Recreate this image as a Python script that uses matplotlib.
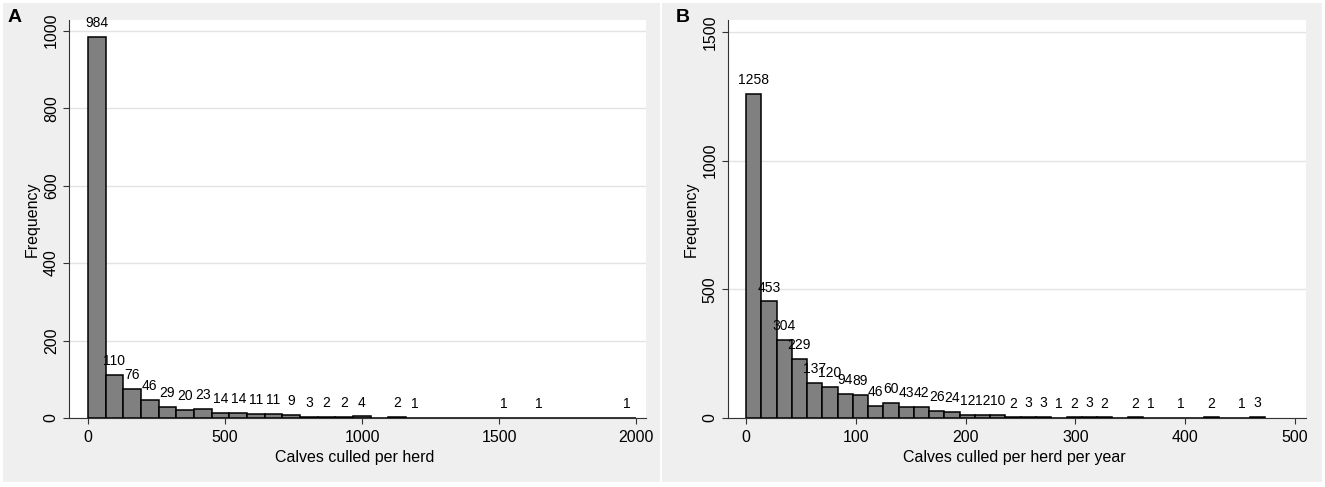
import numpy as np
import matplotlib.pyplot as plt
from matplotlib.patches import Rectangle

plt.rcParams['font.family'] = ['Liberation Sans', 'DejaVu Sans']

# panel A: calves culled per herd, 31 bins
width_a = 64.5
counts_a = [984, 110, 76, 46, 29, 20, 23, 14, 14, 11, 11, 9, 3, 2, 2, 4,
            0, 2, 1, 0, 0, 0, 0, 1, 0, 1, 0, 0, 0, 0, 1]
xticks_a = [0, 500, 1000, 1500, 2000]
yticks_a = [0, 200, 400, 600, 800, 1000]

# panel B: calves culled per herd per year, 34 bins
width_b = 13.9
counts_b = [1258, 453, 304, 229, 137, 120, 94, 89, 46, 60, 43, 42, 26, 24,
            12, 12, 10, 2, 3, 3, 1, 2, 3, 2, 0, 2, 1, 0, 1, 0, 2, 0, 1, 3]
xticks_b = [0, 100, 200, 300, 400, 500]
yticks_b = [0, 500, 1000, 1500]

W, H = 1325, 487
fig = plt.figure(figsize=(W / 100, H / 100), dpi=100, facecolor='white')

# grey graph regions behind each panel
for x0, x1 in [(3, 660), (662, 1322)]:
    fig.patches.append(Rectangle((x0 / W, 1 - 482 / H), (x1 - x0) / W, 479 / H,
                                 transform=fig.transFigure, facecolor='#efefef',
                                 edgecolor='none', zorder=-5))


def panel(rect, counts, width, xticks, yticks, xlim, ylim, xlabel, letter, lx):
    ax = fig.add_axes(rect)
    ax.set_zorder(2)
    ax.set_facecolor('white')
    n = len(counts)
    left = np.arange(n) * width
    ax.bar(left, counts, width=width, align='edge', color='#808080',
           edgecolor='black', linewidth=1.1, zorder=3)
    for x, c in zip(left + width / 2, counts):
        if c > 0:
            ax.annotate(str(c), (x, c), xytext=(0, 5), textcoords='offset points',
                        ha='center', va='bottom', fontsize=10, zorder=4)
    ax.set_xlim(*xlim)
    ax.set_ylim(*ylim)
    ax.set_xticks(xticks)
    ax.set_yticks(yticks)
    ax.set_yticklabels([str(t) for t in yticks], rotation=90, va='center')
    ax.tick_params(direction='out', length=4.3, width=0.8, color='#333333',
                   labelsize=11.5, pad=3)
    ax.tick_params(axis='x', pad=4)
    for s in ['top', 'right']:
        ax.spines[s].set_visible(False)
    for s in ['left', 'bottom']:
        ax.spines[s].set_color('#333333')
        ax.spines[s].set_linewidth(0.8)
    ax.yaxis.grid(True, color='#e3e3e3', linewidth=1)
    ax.set_axisbelow(True)
    ax.set_ylabel('Frequency', fontsize=11.5, va='center')
    ax.yaxis.set_label_coords(-0.064, 0.5)
    ax.set_xlabel(xlabel, fontsize=11.5, va='center')
    ax.xaxis.set_label_coords(0.495, -0.098)
    fig.text(lx / W, 1 - 17 / H, letter, fontsize=14, fontweight='bold',
             ha='center', va='center', zorder=5)
    return ax


panel([69 / W, 1 - 418 / H, 577 / W, 398 / H], counts_a, width_a, xticks_a,
      yticks_a, (-69, 2036), (0, 1027.6), 'Calves culled per herd', 'A', 15)
panel([728 / W, 1 - 418 / H, 578 / W, 398 / H], counts_b, width_b, xticks_b,
      yticks_b, (-16.4, 510), (0, 1547), 'Calves culled per herd per year', 'B', 683)

fig.savefig('out.png', dpi=100, facecolor=fig.get_facecolor())
